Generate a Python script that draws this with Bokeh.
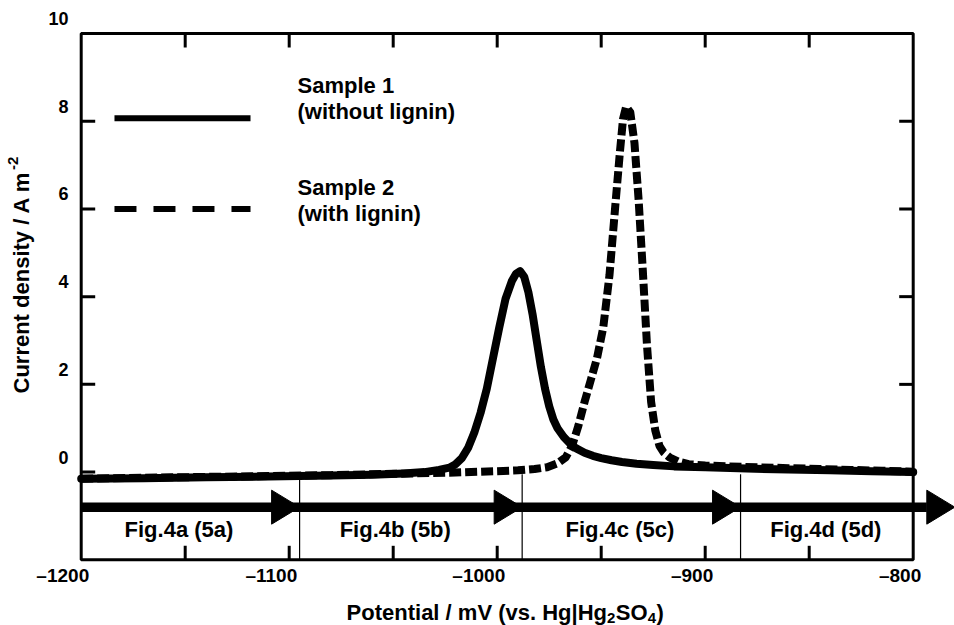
import math

from bokeh.plotting import figure
from bokeh.models import Range1d
from bokeh.embed import file_html
from bokeh.resources import INLINE
from bokeh.core.properties import value

# ---------------------------------------------------------------- data
# Sample 1 (without lignin): potential in mV vs. Hg|Hg2SO4, current density in A m-2
s1_potential = [-1200, -1170, -1140, -1110, -1080, -1060, -1045, -1035, -1028, -1023,
                -1020, -1017, -1014, -1011, -1008, -1005, -1002, -999, -996, -993,
                -991, -989, -987, -985, -983, -981, -979, -977, -975, -973,
                -971, -968, -965, -962, -958, -954, -950, -945, -940, -933,
                -925, -915, -900, -880, -860, -840, -820, -800]
s1_current = [-0.15, -0.14, -0.12, -0.10, -0.08, -0.06, -0.03, 0.00, 0.05, 0.10,
              0.18, 0.32, 0.55, 0.90, 1.35, 1.90, 2.60, 3.30, 3.95, 4.35,
              4.52, 4.58, 4.45, 4.10, 3.60, 3.00, 2.40, 1.90, 1.50, 1.20,
              1.00, 0.80, 0.65, 0.54, 0.44, 0.37, 0.32, 0.27, 0.23, 0.19,
              0.16, 0.13, 0.11, 0.08, 0.06, 0.04, 0.02, 0.00]

# Sample 2 (with lignin)
s2_potential = [-1200, -1170, -1140, -1110, -1080, -1050, -1020, -1000, -990, -982,
                -976, -971, -967, -964, -961, -958, -955, -952, -949, -946,
                -943, -941, -939.5, -938, -936, -934, -932, -930, -928, -926,
                -924, -922, -920, -917, -913, -908, -900, -890, -875, -860,
                -845, -830, -815, -800]
s2_current = [-0.15, -0.13, -0.11, -0.09, -0.07, -0.04, -0.01, 0.02, 0.04, 0.07,
              0.11, 0.20, 0.34, 0.60, 1.05, 1.60, 2.10, 2.60, 3.30, 4.50,
              6.20, 7.30, 8.05, 8.33, 8.20, 7.50, 6.20, 4.60, 2.90, 1.60,
              0.95, 0.60, 0.45, 0.33, 0.24, 0.18, 0.15, 0.13, 0.11, 0.09,
              0.07, 0.05, 0.03, 0.01]

x_label_ticks = [-1200, -1100, -1000, -900, -800]
x_tick_labels = ["\u20131200", "\u20131100", "\u20131000", "\u2013900", "\u2013800"]
x_inner_ticks = [-1150, -1100, -1050, -1000, -950, -900, -850]
y_label_ticks = [0, 2, 4, 6, 8, 10]
y_tick_labels = ["0", "2", "4", "6", "8", "10"]
y_inner_ticks = [0, 2, 4, 6, 8]

# measurement sections along the sweep
section_bounds = [-1095, -988, -883]
arrow_tips = [-1095, -988, -883, -780]
section_labels = ["Fig.4a (5a)", "Fig.4b (5b)", "Fig.4c (5c)", "Fig.4d (5d)"]
section_label_x = [-1153, -1049, -941, -842]
section_label_y = -1.485
arrow_level = -0.8

legend_names = ["Sample 1", "Sample 2"]
legend_notes = ["(without lignin)", "(with lignin)"]
legend_line_y = [8.07, 6.0]
legend_name_y = [8.625, 6.306]
legend_note_y = [8.03, 5.71]
legend_x0, legend_x1, legend_text_x = -1184, -1118.6, -1096

X_MIN, X_MAX = -1200, -800
Y_MIN, Y_MAX = -2, 10

# ---------------------------------------------------------------- layout
W, H = 954, 625
FRAME_L, FRAME_R, FRAME_T, FRAME_B = 80.7, 912.7, 33.0, 559.3
kx = (FRAME_R - FRAME_L) / (X_MAX - X_MIN)   # px per mV
ky = (FRAME_B - FRAME_T) / (Y_MAX - Y_MIN)   # px per A m-2
LIFT = 8   # px: raise applied to alphabetic-baseline text in the svg output

FONT = value("Liberation Sans")
INK = "black"

# Arial/Liberation Sans Bold advance widths (1/1000 em) for placing sub/superscripts
BOLD_W = {" ": 278, "(": 333, ")": 333, ".": 278, "/": 278, "|": 280, "-": 333,
          "2": 556, "4": 556, "P": 667, "o": 611, "t": 333, "e": 556, "n": 611,
          "i": 278, "a": 556, "l": 278, "m": 889, "V": 667, "v": 556, "s": 556,
          "H": 722, "g": 611, "S": 667, "O": 778, "C": 722, "u": 611, "r": 389,
          "d": 611, "y": 556, "A": 722}


def text_width(s, size):
    return sum(BOLD_W[c] for c in s) * size / 1000.0


def label(x, y, text, size, **kw):
    kw.setdefault("text_align", "left")
    p.text(x=x, y=y, text=text, text_baseline="alphabetic", text_font=FONT,
           text_font_style="bold", text_font_size=f"{size}px", text_color=INK, **kw)


p = figure(width=W, height=H, title=None,
           x_range=Range1d(X_MIN - FRAME_L / kx, X_MAX + (W - FRAME_R) / kx),
           y_range=Range1d(Y_MIN - (H - FRAME_B) / ky, Y_MAX + FRAME_T / ky),
           x_axis_type=None, y_axis_type=None,
           output_backend="svg", toolbar_location=None, min_border=0)
p.outline_line_color = None
p.background_fill_color = "white"
p.border_fill_color = "white"

# plot box
p.quad(left=[X_MIN], right=[X_MAX], bottom=[Y_MIN], top=[Y_MAX],
       fill_color=None, line_color=INK, line_width=3)

# inward ticks on all four sides
TICK = 14
nx, ny = len(x_inner_ticks), len(y_inner_ticks)
p.segment(x0=x_inner_ticks, y0=[Y_MIN] * nx, x1=x_inner_ticks, y1=[Y_MIN + TICK / ky] * nx,
          line_color=INK, line_width=3)
p.segment(x0=x_inner_ticks, y0=[Y_MAX] * nx, x1=x_inner_ticks, y1=[Y_MAX - TICK / ky] * nx,
          line_color=INK, line_width=3)
p.segment(x0=[X_MIN] * ny, y0=y_inner_ticks, x1=[X_MIN + TICK / kx] * ny, y1=y_inner_ticks,
          line_color=INK, line_width=3)
p.segment(x0=[X_MAX] * ny, y0=y_inner_ticks, x1=[X_MAX - TICK / kx] * ny, y1=y_inner_ticks,
          line_color=INK, line_width=3)

# tick labels
label(x_label_ticks, [Y_MIN] * len(x_label_ticks), x_tick_labels, 19,
      x_offset=8, y_offset=24 - LIFT, text_align="right")
label([X_MIN] * len(y_label_ticks), y_label_ticks, y_tick_labels, 18,
      x_offset=-12.7, y_offset=-3 - LIFT - 4, text_align="right")

# axis titles
TITLE_SIZE, SUB_SIZE = 22, 15
x_pieces = [("Potential / mV (vs. Hg|Hg", TITLE_SIZE, 0), ("2", SUB_SIZE, 5),
            ("SO", TITLE_SIZE, 0), ("4", SUB_SIZE, 5), (")", TITLE_SIZE, 0)]
total = sum(text_width(s, sz) for s, sz, _ in x_pieces) + 1
cursor = 8 - total / 2
for s, sz, drop in x_pieces:
    label([(X_MIN + X_MAX) / 2], [Y_MIN], [s], sz,
          x_offset=cursor, y_offset=61 + drop - LIFT)
    cursor += text_width(s, sz) + (0.5 if sz == SUB_SIZE else 0)

y_main = "Current density / A m"
Y_TITLE_DX, Y_TITLE_DY = -50.7 - LIFT - 1, -166.3
label([X_MIN], [Y_MIN], [y_main], TITLE_SIZE, angle=math.pi / 2,
      x_offset=Y_TITLE_DX, y_offset=Y_TITLE_DY)
label([X_MIN], [Y_MIN], ["-2"], SUB_SIZE, angle=math.pi / 2,
      x_offset=Y_TITLE_DX - 8, y_offset=Y_TITLE_DY - text_width(y_main, TITLE_SIZE) - 1)

# section dividers and the sweep-direction arrow
nb = len(section_bounds)
p.segment(x0=section_bounds, y0=[-0.05] * nb, x1=section_bounds, y1=[Y_MIN] * nb,
          line_color=INK, line_width=1.2)
head_len, head_half = 28 / kx, 17 / ky
p.line([X_MIN, arrow_tips[-1] - head_len], [arrow_level, arrow_level],
       line_color=INK, line_width=9.5)
p.patches(xs=[[t - head_len, t, t - head_len] for t in arrow_tips],
          ys=[[arrow_level + head_half, arrow_level, arrow_level - head_half] for _ in arrow_tips],
          fill_color=INK, line_color=INK, line_width=1)
label(section_label_x, [section_label_y] * len(section_labels), section_labels, 22,
      y_offset=-LIFT, text_align="center")

# polarization curves
p.line(s1_potential, s1_current, line_color=INK, line_width=8,
       line_join="round", line_cap="round")
p.line(s2_potential, s2_current, line_color=INK, line_width=8,
       line_dash="12 4", line_join="round", line_cap="butt")

# legend
p.line([legend_x0, legend_x1], [legend_line_y[0]] * 2, line_color=INK, line_width=6)
p.line([legend_x0, legend_x1], [legend_line_y[1]] * 2, line_color=INK, line_width=6,
       line_dash="22 17")
label([legend_text_x] * 4, legend_name_y + legend_note_y, legend_names + legend_notes, 22,
      y_offset=-LIFT)

open("out.html", "w").write(file_html(p, INLINE))
